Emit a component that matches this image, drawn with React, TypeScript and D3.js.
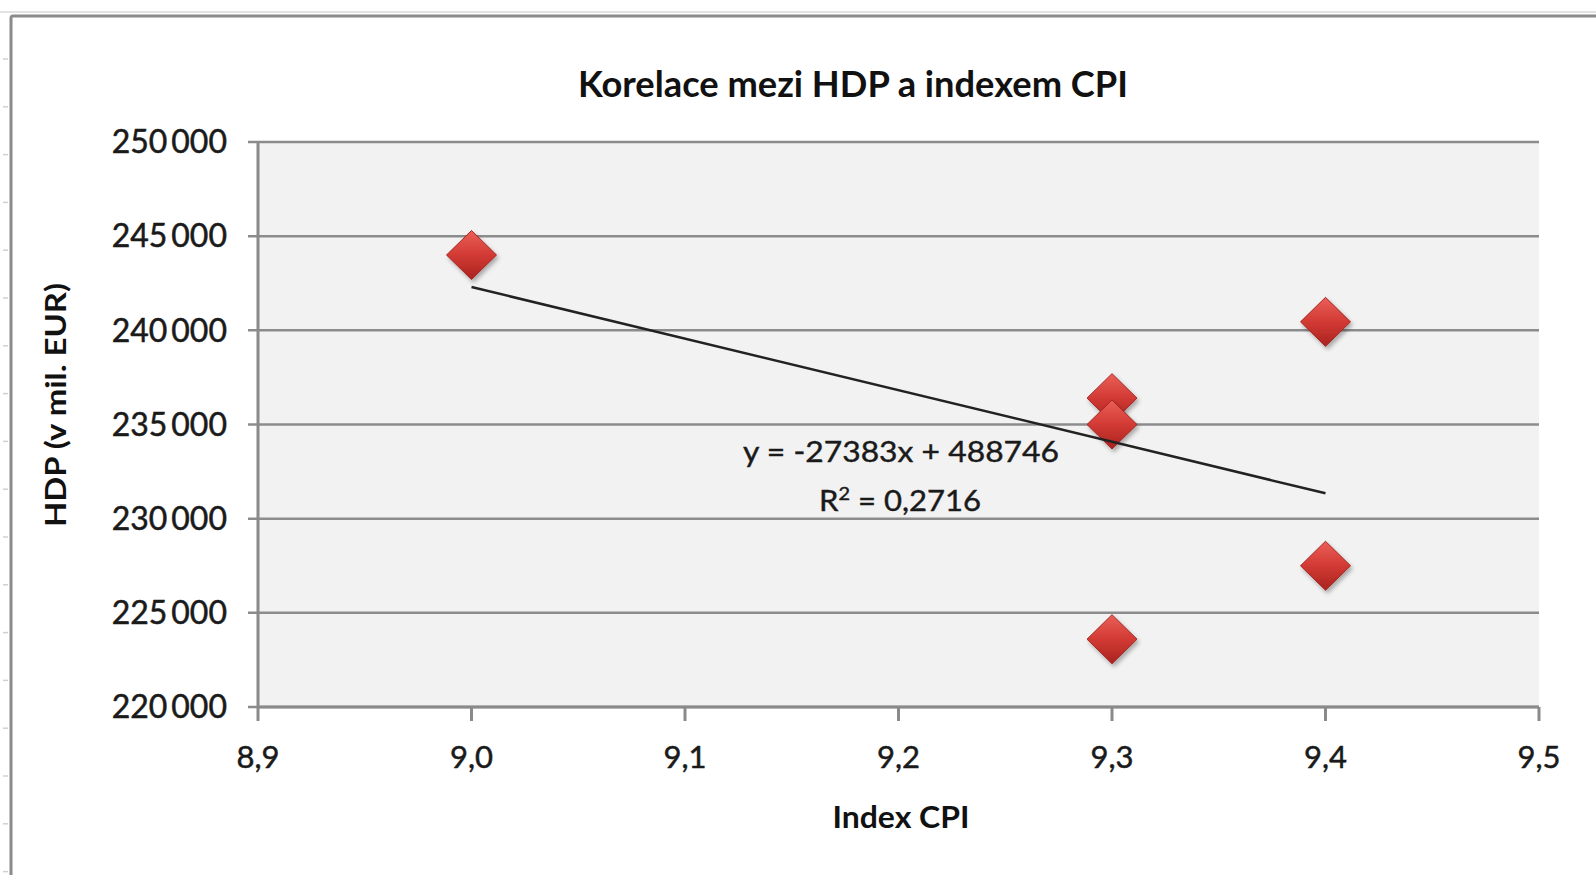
import * as d3 from 'd3';

// CPI index vs. GDP (HDP, mil. EUR)
const cpiValues = [9.0, 9.3, 9.3, 9.3, 9.4, 9.4];
const hdpValues = [244000, 236400, 235000, 223600, 240450, 227500];

const xTicks = [8.9, 9.0, 9.1, 9.2, 9.3, 9.4, 9.5];
const yTicks = [220000, 225000, 230000, 235000, 240000, 245000, 250000];

// linear trendline as given in the chart label
const trendSlope = -27383;
const trendIntercept = 488746;
const trendRange = [9.0, 9.4];
const trendLabel = 'y = -27383x + 488746';
const r2Label = '0,2716';

const title = 'Korelace mezi HDP a indexem CPI';
const xTitle = 'Index CPI';
const yTitle = 'HDP (v mil. EUR)';

const W = 1596;
const H = 875;
const margin = { top: 142, right: 57, bottom: 168, left: 258 };
const FONT = 'Lato, "Open Sans", sans-serif';

export default function App() {
  const x = d3
    .scaleLinear()
    .domain([8.9, 9.5])
    .range([margin.left, W - margin.right]);
  const y = d3
    .scaleLinear()
    .domain([220000, 250000])
    .range([H - margin.bottom, margin.top]);

  const fmtY = (v: number) => d3.format(',')(v).replace(',', '\u2009');
  const fmtX = (v: number) => d3.format('.1f')(v).replace('.', ',');

  const trendLine = d3
    .line<number>()
    .x((d) => x(d))
    .y((d) => y(trendSlope * d + trendIntercept))(trendRange);

  const diamond = 'M0,-24.5L25,0L0,24.5L-25,0Z';
  const plotBottom = y(220000);
  const plotLeft = x(8.9);
  const plotRight = x(9.5);

  return (
    <svg
      width={W}
      height={H}
      style={{ position: 'absolute', left: 0, top: 0, background: '#fff' }}
    >
      <defs>
        <linearGradient id="mk" x1="0" y1="0" x2="0" y2="1">
          <stop offset="0%" stopColor="#ea5f58" />
          <stop offset="50%" stopColor="#d23a34" />
          <stop offset="100%" stopColor="#a9231f" />
        </linearGradient>
        <filter id="sh" x="-50%" y="-50%" width="200%" height="200%">
          <feDropShadow dx="2" dy="3" stdDeviation="2" floodColor="#000" floodOpacity="0.3" />
        </filter>
      </defs>

      {/* spreadsheet remnants */}
      <line x1={0} x2={W} y1={12} y2={12} stroke="#e2e2e2" strokeWidth={2} />
      {d3.range(59, H, 47.8).map((v) => (
        <line key={v} x1={3} x2={8} y1={v} y2={v} stroke="#d0d0d0" strokeWidth={1.5} />
      ))}

      {/* chart border */}
      <rect x={11} y={16} width={W + 40} height={H + 40} fill="#fff" stroke="#8a8a8a" strokeWidth={3} rx={2} />

      {/* plot area */}
      <rect
        x={plotLeft}
        y={margin.top}
        width={plotRight - plotLeft}
        height={plotBottom - margin.top}
        fill="#f2f2f2"
      />

      {/* gridlines and y ticks */}
      {yTicks.map((t) => (
        <g key={t}>
          <line x1={plotLeft - 10} x2={plotRight} y1={y(t)} y2={y(t)} stroke="#8c8c8c" strokeWidth={2.5} />
          <text
            x={227}
            y={y(t)}
            dy="0.35em"
            textAnchor="end"
            fontFamily={FONT}
            fontSize={32}
            fill="#1a1a1a"
            stroke="#1a1a1a"
            strokeWidth={0.5}
          >
            {fmtY(t)}
          </text>
        </g>
      ))}

      {/* axes */}
      <line x1={plotLeft} x2={plotLeft} y1={margin.top} y2={plotBottom} stroke="#8a8a8a" strokeWidth={3} />
      <line x1={plotLeft} x2={plotRight} y1={plotBottom} y2={plotBottom} stroke="#8a8a8a" strokeWidth={3} />
      {xTicks.map((t) => (
        <g key={t}>
          <line x1={x(t)} x2={x(t)} y1={plotBottom} y2={plotBottom + 14} stroke="#8a8a8a" strokeWidth={3} />
          <text
            x={x(t)}
            y={768}
            textAnchor="middle"
            fontFamily={FONT}
            fontSize={31}
            fill="#1a1a1a"
            stroke="#1a1a1a"
            strokeWidth={0.5}
          >
            {fmtX(t)}
          </text>
        </g>
      ))}

      {/* markers */}
      {cpiValues.map((c, i) => (
        <path
          key={i}
          d={diamond}
          transform={`translate(${x(c)},${y(hdpValues[i])})`}
          fill="url(#mk)"
          stroke="#a52521"
          strokeWidth={1}
          filter="url(#sh)"
        />
      ))}

      {/* trendline */}
      <path d={trendLine ?? ''} fill="none" stroke="#222" strokeWidth={2.5} />
      <text
        x={901}
        y={462}
        textAnchor="middle"
        fontFamily={FONT}
        fontSize={28}
        fill="#1a1a1a"
        stroke="#1a1a1a"
        strokeWidth={0.4}
        textLength={316}
        lengthAdjust="spacingAndGlyphs"
      >
        {trendLabel}
      </text>
      <text
        x={900}
        y={511}
        textAnchor="middle"
        fontFamily={FONT}
        fontSize={28}
        fill="#1a1a1a"
        stroke="#1a1a1a"
        strokeWidth={0.4}
        textLength={162}
        lengthAdjust="spacingAndGlyphs"
      >
        R<tspan dy={-11} fontSize={18}>2</tspan>
        <tspan dy={11}> = {r2Label}</tspan>
      </text>

      {/* titles */}
      <text
        x={853}
        y={97}
        textAnchor="middle"
        fontFamily={FONT}
        fontWeight="bold"
        fontSize={37}
        fill="#111"
        textLength={550}
        lengthAdjust="spacingAndGlyphs"
      >
        {title}
      </text>
      <text
        x={901}
        y={828}
        textAnchor="middle"
        fontFamily={FONT}
        fontWeight="bold"
        fontSize={31}
        fill="#111"
        textLength={137}
        lengthAdjust="spacingAndGlyphs"
      >
        {xTitle}
      </text>
      <text
        transform="translate(66,405) rotate(-90)"
        textAnchor="middle"
        fontFamily={FONT}
        fontWeight="bold"
        fontSize={28}
        fill="#111"
        textLength={244}
        lengthAdjust="spacingAndGlyphs"
      >
        {yTitle}
      </text>
    </svg>
  );
}
